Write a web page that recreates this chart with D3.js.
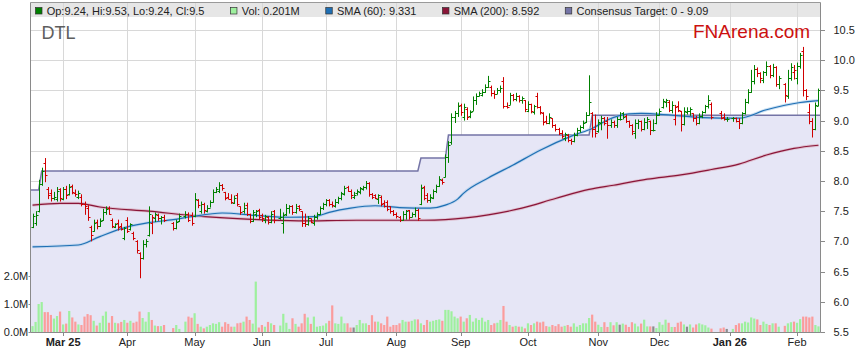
<!DOCTYPE html>
<html>
<head>
<meta charset="utf-8">
<script src="https://cdn.jsdelivr.net/npm/d3@7"></script>
<style>
  body { margin: 0; background: #fff; }
  svg { display: block; font-family: "Liberation Sans", Arial, sans-serif; }
</style>
</head>
<body>
<div id="chart"></div>
<script>
// ---- data ----
const firstDay = "2025-02-17", lastDay = "2026-02-11";
const holidays = ["2025-04-18","2025-04-21","2025-04-25","2025-06-09",
                  "2025-12-25","2025-12-26","2026-01-01","2026-01-26"];
const monthLabels = ["Mar 25","Apr","May","Jun","Jul","Aug","Sep","Oct","Nov","Dec","Jan 26","Feb"];
const priceTicks = [5.5,6,6.5,7,7.5,8,8.5,9,9.5,10,10.5];
const volTicks = [0,1,2];

// [open, high, low, close], one per trading day
const ohlc = [
  // Feb 25
  [7.24,7.46,7.22,7.42],[7.30,7.50,7.26,7.44],[7.50,8.02,7.48,7.95],[7.95,8.22,7.92,8.16],[8.30,8.38,7.98,8.10],
  [7.86,7.90,7.70,7.76],[7.80,7.86,7.66,7.72],[7.72,7.82,7.68,7.74],[7.70,7.90,7.66,7.84],[7.86,7.88,7.66,7.72],
  // Mar
  [7.70,7.90,7.68,7.86],[7.86,7.92,7.70,7.76],[7.78,7.95,7.76,7.90],[7.92,7.94,7.78,7.82],[7.80,7.86,7.74,7.78],
  [7.74,7.84,7.70,7.80],[7.74,7.78,7.58,7.62],[7.62,7.66,7.44,7.58],[7.56,7.60,7.34,7.40],[7.24,7.26,7.00,7.10],
  [7.18,7.36,7.16,7.30],[7.32,7.36,7.20,7.26],[7.26,7.38,7.24,7.34],[7.36,7.54,7.34,7.48],[7.48,7.58,7.44,7.54],
  [7.56,7.58,7.44,7.46],[7.36,7.38,7.22,7.26],[7.24,7.30,7.22,7.28],[7.30,7.36,7.18,7.24],[7.26,7.30,7.18,7.20],
  [7.06,7.24,7.02,7.22],
  // Apr
  [7.36,7.40,7.14,7.18],[7.20,7.30,7.18,7.28],[7.14,7.16,7.02,7.06],[7.00,7.02,6.80,6.86],[6.80,6.82,6.39,6.72],
  [6.72,7.02,6.70,6.96],[6.96,7.04,6.90,7.00],[7.10,7.58,7.08,7.46],[7.30,7.44,7.12,7.40],[7.38,7.48,7.32,7.46],
  [7.44,7.46,7.34,7.38],[7.38,7.42,7.28,7.40],[7.40,7.44,7.32,7.36],
  [7.30,7.32,7.18,7.22],[7.22,7.36,7.20,7.32],[7.34,7.46,7.32,7.42],
  [7.42,7.50,7.38,7.46],[7.46,7.48,7.32,7.36],[7.44,7.48,7.26,7.30],
  // May
  [7.42,7.80,7.40,7.70],[7.68,7.70,7.55,7.60],[7.50,7.66,7.46,7.62],[7.62,7.64,7.46,7.52],[7.50,7.60,7.48,7.56],
  [7.56,7.68,7.56,7.66],[7.66,7.86,7.64,7.82],[7.82,7.90,7.80,7.86],[7.84,7.98,7.80,7.94],[7.94,7.95,7.84,7.88],
  [7.82,7.82,7.68,7.72],[7.74,7.80,7.70,7.70],[7.70,7.78,7.62,7.66],[7.64,7.76,7.62,7.72],[7.76,7.80,7.58,7.62],
  [7.58,7.58,7.44,7.48],[7.50,7.64,7.46,7.56],[7.60,7.64,7.42,7.46],[7.46,7.46,7.30,7.34],[7.34,7.52,7.32,7.48],
  [7.46,7.52,7.40,7.50],[7.52,7.54,7.36,7.40],
  // Jun
  [7.44,7.46,7.32,7.38],[7.36,7.44,7.30,7.42],[7.40,7.42,7.28,7.32],[7.32,7.50,7.30,7.46],[7.50,7.52,7.30,7.36],
  [7.38,7.54,7.36,7.40],[7.30,7.48,7.13,7.44],[7.46,7.62,7.42,7.56],[7.56,7.60,7.46,7.58],[7.58,7.60,7.44,7.48],
  [7.48,7.62,7.46,7.56],[7.58,7.60,7.50,7.54],[7.50,7.50,7.24,7.30],[7.30,7.46,7.24,7.28],[7.28,7.42,7.26,7.38],
  [7.38,7.38,7.30,7.32],[7.30,7.44,7.26,7.40],[7.40,7.48,7.36,7.46],[7.46,7.58,7.44,7.56],[7.56,7.64,7.52,7.62],
  // Jul
  [7.62,7.70,7.58,7.68],[7.68,7.70,7.58,7.62],[7.62,7.66,7.56,7.60],[7.58,7.70,7.56,7.66],[7.66,7.74,7.62,7.72],
  [7.72,7.82,7.68,7.80],[7.78,7.92,7.76,7.88],[7.90,7.92,7.82,7.84],[7.84,7.86,7.70,7.76],[7.74,7.82,7.70,7.76],
  [7.80,7.86,7.76,7.84],[7.82,7.90,7.78,7.88],[7.86,7.92,7.84,7.90],[7.90,8.00,7.86,7.96],[7.96,7.98,7.74,7.78],
  [7.78,7.80,7.70,7.74],[7.76,7.78,7.70,7.72],[7.70,7.78,7.62,7.76],[7.74,7.76,7.58,7.62],[7.64,7.68,7.56,7.58],
  [7.66,7.68,7.50,7.54],[7.58,7.58,7.46,7.50],[7.50,7.52,7.42,7.46],
  // Aug
  [7.46,7.48,7.38,7.42],[7.40,7.42,7.32,7.36],[7.36,7.50,7.34,7.46],[7.46,7.52,7.36,7.50],[7.52,7.52,7.36,7.40],
  [7.40,7.48,7.40,7.46],[7.46,7.56,7.40,7.52],[7.52,7.54,7.34,7.38],[7.62,7.94,7.60,7.88],[7.90,7.92,7.68,7.72],
  [7.76,7.80,7.64,7.68],[7.68,7.78,7.64,7.74],[7.72,7.86,7.70,7.84],[7.84,7.94,7.80,7.92],[7.92,8.08,7.90,8.04],
  [8.02,8.04,7.94,7.98],[8.06,8.44,8.06,8.40],[8.40,8.66,8.30,8.60],[8.64,9.12,8.60,9.06],[9.06,9.16,8.96,9.12],
  [9.12,9.30,9.06,9.24],
  // Sep
  [9.26,9.28,9.08,9.14],[9.06,9.28,9.00,9.22],[9.20,9.22,9.01,9.06],[9.08,9.17,9.04,9.14],[9.16,9.40,9.16,9.34],
  [9.34,9.45,9.26,9.40],[9.40,9.48,9.40,9.46],[9.42,9.52,9.40,9.48],[9.48,9.60,9.46,9.56],[9.56,9.74,9.54,9.66],
  [9.56,9.58,9.40,9.46],[9.46,9.50,9.36,9.44],[9.44,9.54,9.44,9.50],[9.50,9.58,9.46,9.54],[9.66,9.72,9.20,9.24],
  [9.24,9.30,9.20,9.22],[9.26,9.46,9.26,9.42],[9.42,9.44,9.32,9.36],[9.36,9.46,9.32,9.40],[9.40,9.42,9.30,9.34],
  [9.34,9.40,9.28,9.38],[9.34,9.34,9.14,9.20],
  // Oct
  [9.16,9.32,9.14,9.28],[9.28,9.28,9.12,9.16],[9.14,9.26,9.10,9.24],[9.40,9.46,9.20,9.22],[9.22,9.24,9.10,9.14],
  [9.12,9.14,8.92,8.98],[9.00,9.08,8.94,8.96],[8.96,9.12,8.94,9.06],[9.04,9.04,8.88,8.92],[8.92,8.94,8.82,8.86],
  [8.86,8.88,8.76,8.80],[8.80,8.84,8.70,8.74],[8.72,8.80,8.66,8.78],[8.76,8.78,8.64,8.68],[8.68,8.70,8.60,8.66],
  [8.66,8.80,8.64,8.76],[8.76,8.88,8.74,8.84],[8.84,8.92,8.80,8.90],[8.90,9.00,8.86,8.96],[8.98,9.14,8.96,9.10],
  [9.10,9.75,9.08,9.30],[9.12,9.14,8.72,8.86],[8.86,9.10,8.72,8.80],
  // Nov
  [8.82,9.02,8.80,8.98],[8.96,9.08,8.84,9.04],[9.04,9.06,8.92,8.96],[9.00,9.06,8.70,8.92],[8.92,9.02,8.88,8.98],
  [8.98,9.00,8.88,8.92],[8.92,9.06,8.88,9.02],[9.02,9.14,9.00,9.02],[9.12,9.14,9.02,9.06],[9.08,9.10,8.96,9.00],
  [9.00,9.00,8.88,8.92],[8.92,8.94,8.76,8.82],[8.80,9.02,8.70,8.96],[8.96,9.02,8.86,9.00],[9.00,9.00,8.82,8.86],
  [8.86,9.04,8.84,8.98],[8.98,9.06,8.86,9.02],[9.00,9.00,8.76,8.84],[8.84,9.02,8.82,8.84],[8.96,9.14,8.94,9.10],
  // Dec
  [9.10,9.20,9.08,9.16],[9.22,9.36,9.20,9.32],[9.30,9.36,9.22,9.34],[9.30,9.34,9.14,9.18],[9.18,9.32,9.12,9.26],
  [9.02,9.26,8.92,9.22],[9.24,9.32,9.14,9.18],[9.16,9.16,8.82,8.94],[8.94,9.22,8.92,9.16],[9.14,9.22,9.10,9.16],
  [9.16,9.22,9.08,9.20],[9.12,9.12,8.98,9.04],[9.04,9.08,8.92,8.96],[8.96,9.12,8.94,9.08],[9.08,9.16,9.04,9.14],
  [9.14,9.26,9.12,9.24],[9.24,9.42,9.20,9.34],[9.28,9.30,9.02,9.06],
  [9.12,9.16,9.02,9.04],[9.06,9.12,9.00,9.02],[9.02,9.06,8.98,9.02],
  // Jan 26
  [9.04,9.06,8.98,9.05],[9.04,9.05,8.97,9.00],[9.00,9.04,8.86,8.96],[8.96,9.14,8.94,9.12],[9.12,9.36,9.10,9.30],
  [9.30,9.52,9.28,9.48],[9.48,9.84,9.46,9.66],[9.66,9.92,9.60,9.86],[9.86,9.88,9.72,9.78],[9.78,9.80,9.62,9.70],
  [9.68,9.82,9.62,9.80],[9.80,9.98,9.74,9.90],[9.90,9.92,9.70,9.76],[9.76,9.94,9.72,9.88],[9.88,9.90,9.56,9.60],
  [9.60,9.74,9.52,9.70],
  [9.60,9.62,9.30,9.42],[9.40,9.84,9.36,9.70],[9.70,9.95,9.66,9.88],[9.80,9.92,9.68,9.84],
  // Feb
  [9.70,9.96,9.60,9.90],[9.90,10.12,9.86,10.08],[10.16,10.22,9.40,9.50],[9.50,9.52,9.34,9.40],[9.14,9.28,8.94,9.00],
  [9.00,9.04,8.72,8.86],[8.86,9.30,8.84,9.26],[9.24,9.53,9.24,9.50]
];

// volume in millions, one per trading day
const volume = [
  0.21,0.36,1.00,1.07,0.71,0.71,0.61,0.48,0.57,0.73,
  0.27,0.30,0.75,0.52,0.37,0.27,0.25,0.55,0.64,0.60,0.40,0.23,0.33,0.58,0.73,0.33,0.57,0.33,0.31,0.36,0.43,
  0.33,0.40,0.33,0.37,0.73,0.50,0.37,0.71,0.43,0.23,0.21,0.21,0.25,0.14,0.25,0.11,0.37,0.55,0.51,
  0.67,0.29,0.19,0.13,0.19,0.25,0.31,0.29,0.35,0.19,0.35,0.29,0.19,0.19,0.31,0.33,0.37,0.55,0.43,0.30,1.80,0.16,
  0.25,0.19,0.36,0.31,0.25,0.23,0.65,0.33,0.11,0.49,0.29,0.19,0.31,0.65,0.52,0.29,0.55,0.19,0.21,0.23,
  0.31,0.40,0.95,0.31,0.29,0.55,0.31,0.31,0.16,0.16,0.25,0.43,0.31,0.31,0.25,0.60,0.37,0.37,0.31,0.25,0.55,0.19,0.25,
  0.25,0.31,0.43,0.37,0.37,0.40,0.45,0.45,0.31,0.25,0.43,0.37,0.40,0.43,0.45,0.40,0.79,0.79,0.74,0.55,0.49,
  0.55,0.37,0.49,0.61,0.37,0.49,0.43,0.51,0.37,0.43,0.25,0.31,0.33,0.43,0.93,0.37,0.25,0.19,0.22,0.19,0.19,0.13,
  0.31,0.25,0.31,0.37,0.34,0.37,0.21,0.19,0.25,0.21,0.28,0.19,0.22,0.25,0.19,0.31,0.19,0.25,0.31,0.31,0.50,0.62,0.37,
  0.26,0.18,0.35,0.18,0.35,0.24,0.35,0.26,0.30,0.26,0.18,0.35,0.30,0.20,0.30,0.44,0.20,0.20,0.20,0.14,
  0.35,0.26,0.44,0.33,0.18,0.18,0.33,0.37,0.27,0.19,0.27,0.16,0.27,0.31,0.27,0.24,0.16,0.12,0.13,0.16,0.11,
  0.11,0.25,0.31,0.31,0.37,0.34,0.52,0.48,0.45,0.25,0.37,0.29,0.25,0.31,0.31,0.19,0.22,0.31,0.35,0.37,
  0.33,0.46,0.55,0.55,0.52,0.55,0.25,0.201
];

// moving averages, read at sample dates
const sma60 = [
  ["2025-02-17",6.91],["2025-03-10",6.94],["2025-03-19",7.08],["2025-04-01",7.24],["2025-04-10",7.31],
  ["2025-04-22",7.36],["2025-04-30",7.41],["2025-05-14",7.47],["2025-05-29",7.43],["2025-06-13",7.40],
  ["2025-06-25",7.41],["2025-07-02",7.48],["2025-07-11",7.55],["2025-07-23",7.59],["2025-08-04",7.56],
  ["2025-08-18",7.55],["2025-08-25",7.60],["2025-08-29",7.70],["2025-09-02",7.80],["2025-09-12",8.05],
  ["2025-09-24",8.26],["2025-10-07",8.51],["2025-10-22",8.76],["2025-10-30",8.87],["2025-11-06",9.01],
  ["2025-11-17",9.11],["2025-11-21",9.12],["2025-12-05",9.09],["2025-12-19",9.05],["2026-01-06",9.04],
  ["2026-01-19",9.18],["2026-02-03",9.30],["2026-02-11",9.331]
];
const sma200 = [
  ["2025-02-17",7.60],["2025-02-28",7.63],["2025-03-10",7.63],["2025-03-19",7.57],["2025-04-10",7.50],
  ["2025-05-02",7.42],["2025-05-26",7.37],["2025-06-18",7.34],["2025-07-15",7.35],["2025-08-14",7.35],
  ["2025-08-25",7.36],["2025-09-12",7.44],["2025-09-29",7.55],["2025-10-14",7.71],["2025-10-29",7.86],
  ["2025-11-10",7.93],["2025-11-25",8.03],["2025-12-10",8.10],["2025-12-24",8.19],["2026-01-06",8.28],
  ["2026-01-19",8.43],["2026-01-30",8.54],["2026-02-11",8.592]
];
// consensus target: value from that date on
const consensus = [["2025-02-17",7.85],["2025-02-20",8.165],["2025-08-13",8.38],["2025-08-26",8.76],["2025-10-30",9.09]];

// ---- layout ----
const W = 859, H = 363;
const L = 30.5, R = 820.5, T = 2.5, B = 332.5;
const upColor = "#008000", downColor = "#d00000";
const volUp = "#9ef09e", volDown = "#fb9c9c", volFlat = "#8c8c8c";
const sma60Color = "#1f6fb4", sma200Color = "#8a1538", consColor = "#7474a6";

const fmt = d3.timeFormat("%Y-%m-%d"), parse = d3.timeParse("%Y-%m-%d");
const weekdays = d3.timeDay.range(parse(firstDay), d3.timeDay.offset(parse(lastDay), 1))
  .filter(d => d.getDay() > 0 && d.getDay() < 6);
const slot = new Map(weekdays.map((d, i) => [fmt(d), i]));
const days = weekdays.map(fmt).filter(d => !holidays.includes(d));

const bars = days.map((d, k) => {
  const [o, h, l, c] = ohlc[k];
  return { day: d, i: slot.get(d), o, h, l, c, v: volume[k] };
});
bars.forEach((b, k) => {
  const prev = k ? bars[k - 1].c : b.o;
  b.dir = b.c > prev ? 1 : (b.c < prev ? -1 : 0);
  b.cons = consensus.filter(s => s[0] <= b.day).pop()[1];
});

const months = d3.timeMonth.range(parse("2025-03-01"), parse(lastDay))
  .map((m, k) => ({ i: weekdays.findIndex(d => d >= m), label: monthLabels[k] }));

const x = d3.scaleLinear().domain([-0.5, weekdays.length - 0.5]).range([31, 820]);
const y = d3.scaleLinear().domain([5.5, 10.5]).range([332, 30]);
const yv = d3.scaleLinear().domain([0, 2]).range([332, 276]);

const svg = d3.select("#chart").append("svg").attr("width", W).attr("height", H);

// legend band
svg.append("rect").attr("x", L).attr("y", T).attr("width", R - L).attr("height", 14.5).attr("fill", "#e6e6e6");

// grid
const grid = svg.append("g").attr("stroke", "#d8d8d8").attr("stroke-width", 1);
grid.selectAll("line.v").data(months).join("line")
  .attr("x1", d => Math.round(x(d.i)) + 0.5).attr("x2", d => Math.round(x(d.i)) + 0.5)
  .attr("y1", T).attr("y2", B);
grid.selectAll("line.h").data(priceTicks.filter(v => v > 5.5)).join("line")
  .attr("x1", L).attr("x2", R)
  .attr("y1", d => Math.round(y(d)) + 0.5).attr("y2", d => Math.round(y(d)) + 0.5);

// consensus target area + line
const consPts = [{ i: -0.5, v: bars[0].cons }, ...bars.map(b => ({ i: b.i, v: b.cons })),
                 { i: weekdays.length - 0.5, v: bars[bars.length - 1].cons }];
svg.append("path").datum(consPts)
  .attr("fill", "#e6e6f6")
  .attr("d", d3.area().x(d => x(d.i)).y0(332).y1(d => y(d.v)));
svg.append("path").datum(consPts)
  .attr("fill", "none").attr("stroke", consColor).attr("stroke-width", 1.5)
  .attr("d", d3.line().x(d => x(d.i)).y(d => y(d.v)));

// volume
svg.append("g").selectAll("rect").data(bars).join("rect")
  .attr("x", d => x(d.i) - 1.1).attr("width", 2.2)
  .attr("y", d => yv(d.v)).attr("height", d => 332 - yv(d.v))
  .attr("fill", d => d.dir > 0 ? volUp : (d.dir < 0 ? volDown : volFlat));

// moving averages
function smaLine(data, color, halo) {
  const pts = data.map(d => [x(slot.get(d[0])), y(d[1])]);
  const line = d3.line().curve(d3.curveMonotoneX);
  svg.append("path").attr("d", line(pts)).attr("fill", "none")
    .attr("stroke", halo).attr("stroke-width", 3).attr("stroke-opacity", 0.6);
  svg.append("path").attr("d", line(pts)).attr("fill", "none")
    .attr("stroke", color).attr("stroke-width", 1.2);
}
smaLine(sma200, sma200Color, "#d9a6b8");
smaLine(sma60, sma60Color, "#a9cbea");

// OHLC bars
svg.append("g").attr("fill", "none").attr("stroke-width", 1)
  .selectAll("path").data(bars).join("path")
  .attr("stroke", d => d.dir < 0 ? downColor : upColor)
  .attr("d", d => {
    const cx = Math.round(x(d.i)) + 0.5;
    const yo = Math.round(y(d.o)) + 0.5, yc = Math.round(y(d.c)) + 0.5;
    return `M${cx},${y(d.h)}V${y(d.l)}M${cx - 2},${yo}H${cx}M${cx},${yc}H${cx + 2}`;
  });

// frame / axes
const axis = svg.append("g").attr("stroke", "#8a8a8a").attr("stroke-width", 1);
axis.append("line").attr("x1", L).attr("x2", R).attr("y1", T).attr("y2", T).attr("stroke", "#9a9a9a");
axis.append("line").attr("x1", L).attr("x2", L).attr("y1", T).attr("y2", B);
axis.append("line").attr("x1", R).attr("x2", R).attr("y1", T).attr("y2", B);
axis.append("line").attr("x1", L).attr("x2", R).attr("y1", B).attr("y2", B);

// right price axis
axis.selectAll("line.p").data(priceTicks).join("line")
  .attr("x1", R).attr("x2", R + 4.5)
  .attr("y1", d => Math.round(y(d)) + 0.5).attr("y2", d => Math.round(y(d)) + 0.5);
svg.append("g").attr("font-size", 11).attr("fill", "#222")
  .selectAll("text").data(priceTicks).join("text")
  .attr("x", 833.5).attr("y", d => y(d)).attr("dy", "0.36em")
  .text(d3.format(".1f"));

// left volume axis
axis.selectAll("line.vt").data(volTicks).join("line")
  .attr("x1", L - 2).attr("x2", L)
  .attr("y1", d => Math.round(yv(d)) + 0.5).attr("y2", d => Math.round(yv(d)) + 0.5);
svg.append("g").attr("font-size", 11).attr("fill", "#222").attr("text-anchor", "end")
  .selectAll("text").data(volTicks).join("text")
  .attr("x", 28.3).attr("y", d => yv(d)).attr("dy", "0.36em")
  .text(d => d3.format(".1f")(d) + "M");

// bottom month axis
axis.selectAll("line.m").data(months).join("line")
  .attr("x1", d => Math.round(x(d.i)) + 0.5).attr("x2", d => Math.round(x(d.i)) + 0.5)
  .attr("y1", B).attr("y2", B + 3.5);
svg.append("g").attr("font-size", 11).attr("fill", "#222").attr("text-anchor", "middle")
  .selectAll("text").data(months).join("text")
  .attr("x", d => x(d.i)).attr("y", 345.5)
  .attr("font-weight", d => d.label.length > 3 ? "bold" : "normal")
  .text(d => d.label);

// legend
const last = bars[bars.length - 1];
const legendItems = [
  { text: `Op:${last.o}, Hi:${last.h}, Lo:${last.l}, Cl:${last.c}`, fill: upColor },
  { text: `Vol: ${last.v}M`, fill: volUp },
  { text: `SMA (60): ${sma60[sma60.length - 1][1]}`, fill: sma60Color },
  { text: `SMA (200): ${sma200[sma200.length - 1][1]}`, fill: sma200Color },
  { text: `Consensus Target: 0 - ${consensus[consensus.length - 1][1]}`, fill: consColor }
];
let lx = 35;
legendItems.forEach(it => {
  svg.append("rect").attr("x", lx + 0.5).attr("y", 7.5).attr("width", 6.5).attr("height", 6.5)
    .attr("fill", it.fill).attr("stroke", "#333").attr("stroke-width", 0.7);
  const t = svg.append("text").attr("x", lx + 11.7).attr("y", 15)
    .attr("font-size", 11).attr("fill", "#222").text(it.text);
  lx += 11.7 + t.node().getComputedTextLength() + 25.5;
});

// titles
svg.append("text").attr("x", 41.5).attr("y", 39).attr("font-size", 18).attr("fill", "#5e5e5e").text("DTL");
svg.append("text").attr("x", 693).attr("y", 38.3).attr("font-size", 19).attr("fill", "#cc1010").text("FNArena.com");
</script>
</body>
</html>
